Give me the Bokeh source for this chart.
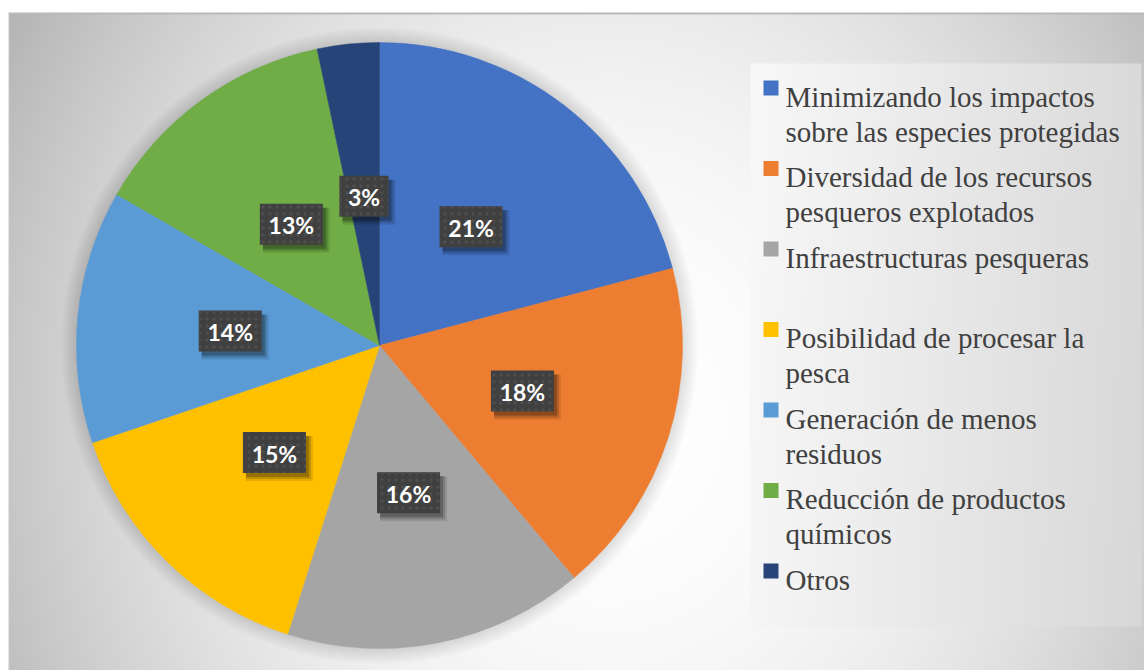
import numpy as np
from bokeh.plotting import figure
from bokeh.models import Range1d
from bokeh.core.properties import value
from bokeh.embed import file_html
from bokeh.resources import INLINE

# ---------------- data ----------------
categories = [
    "Minimizando los impactos\nsobre las especies protegidas",
    "Diversidad de los recursos\npesqueros explotados",
    "Infraestructuras pesqueras",
    "Posibilidad de procesar la\npesca",
    "Generación de menos\nresiduos",
    "Reducción de productos\nquímicos",
    "Otros",
]
values = [20.9, 18.0, 16.0, 14.9, 13.5, 13.4, 3.3]
labels = ["21%", "18%", "16%", "15%", "14%", "13%", "3%"]
colors = ["#4472C4", "#ED7D31", "#A5A5A5", "#FFC000", "#5B9BD5", "#70AD47", "#264478"]

# ---------------- layout ----------------
W, H = 1144, 670
p = figure(width=W, height=H, output_backend="svg", toolbar_location=None,
           x_range=Range1d(0, W), y_range=Range1d(0, H), min_border=0,
           background_fill_color="white", border_fill_color="white")
p.axis.visible = False
p.grid.visible = False
p.outline_line_color = None

def fy(page_y):
    return H - page_y

def fx(page_x):
    return page_x

# ---------------- background (decorative gradient) ----------------
bw, bh = 1136, 658
px = np.arange(bw) + 8 + 0.5
py = 670 - (np.arange(bh) + 0.5)          # row 0 = bottom
X, Y = np.meshgrid(px, py)
drop = 1.55e-4 * (X - 610) ** 2 + 1.15e-4 * (Y - 420) ** 2
g = np.clip(255 - drop, 150, 255)
# legend panel
lm = (X >= 750) & (X <= 1141) & (Y >= 63) & (Y <= 626)
lg = 248 - (X - 750) / 391 * 30 - (Y - 63) / 563 * 2
g = np.where(lm, lg, g)
# frame borders
g = np.where((Y >= 12) & (Y < 14), 185, g)
g = np.where((X >= 8) & (X < 9.5), 200, g)
g = g.astype(np.uint8)
img = np.empty((bh, bw), dtype=np.uint32)
view = img.view(dtype=np.uint8).reshape((bh, bw, 4))
view[:, :, 0] = g
view[:, :, 1] = g
view[:, :, 2] = g
view[:, :, 3] = 255
p.image_rgba(image=[img], x=8, y=0, dw=bw, dh=bh)

# ---------------- pie ----------------
cx, cy, R = fx(379), fy(345), 303

# soft halo around pie
for k in range(16, 0, -1):
    p.circle(x=cx, y=cy, radius=R + k, fill_color="black", fill_alpha=0.007, line_color=None)

vals = np.array(values, dtype=float)
frac = vals / vals.sum()
cum = np.concatenate([[0], np.cumsum(frac)])
starts = np.pi / 2 - 2 * np.pi * cum[:-1]
ends = np.pi / 2 - 2 * np.pi * cum[1:]
p.wedge(x=cx, y=cy, radius=R, start_angle=list(starts), end_angle=list(ends),
        direction="clock", fill_color=colors, line_color=colors, line_width=0.5)

# ---------------- data labels ----------------
mids = np.pi / 2 - 2 * np.pi * (cum[:-1] + frac / 2)
lr = 150
lx = cx + lr * np.cos(mids)
ly = cy + lr * np.sin(mids)
bwid = [21 + 14 * len(s) for s in labels]
bhgt = 41
for (ox, oy, dw, a) in [(5, -6, 4, 0.10), (4, -5, 2, 0.15), (3, -4, 0, 0.22)]:
    p.rect(x=list(lx + ox), y=list(ly + oy), width=[w + dw for w in bwid], height=bhgt + dw,
           fill_color="black", fill_alpha=a, line_color=None)
p.rect(x=list(lx), y=list(ly), width=bwid, height=bhgt, fill_color="#404040",
       line_color=None, hatch_pattern="dot", hatch_scale=7, hatch_weight=1.0,
       hatch_color="#4e4e4e")
p.text(x=list(lx), y=list(ly - 1), text=labels, text_color="white",
       text_font=value("Lato"), text_font_style="bold", text_font_size="23px",
       text_align="center", text_baseline="middle")

# ---------------- legend ----------------
row0, rowstep, linestep = 96, 80.5, 35
for i, (cat, col) in enumerate(zip(categories, colors)):
    base = row0 + rowstep * i
    p.rect(x=fx(770.5), y=fy(base - 8.5), width=15, height=15, fill_color=col, line_color=None)
    for j, line in enumerate(cat.split("\n")):
        p.text(x=fx(785), y=fy(base + j * linestep), text=[line], text_color="#404040",
               text_font=value("Liberation Serif"),
               text_font_size="29px",
               text_align="left", text_baseline="alphabetic")

open("out.html", "w").write(file_html(p, INLINE))
